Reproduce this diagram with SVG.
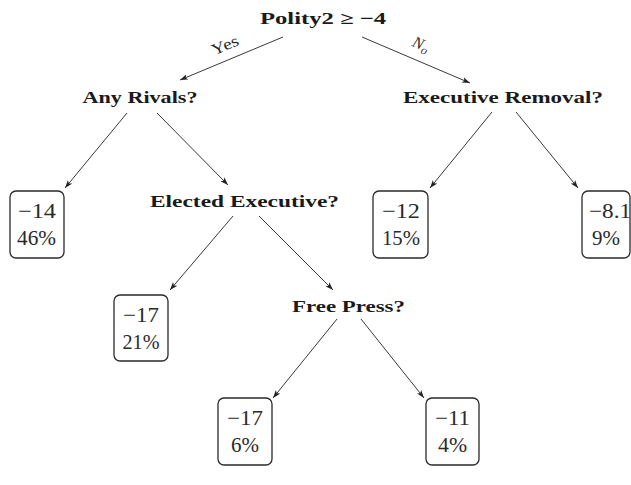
<svg xmlns="http://www.w3.org/2000/svg" width="631" height="485" viewBox="0 0 631 485">
<style>
.q{font-family:"Liberation Serif","Times New Roman",serif;font-weight:bold;font-size:17px;fill:#1a1a1a;text-anchor:middle}
.v{font-family:"Liberation Serif","Times New Roman",serif;font-size:21px;fill:#2a2a2a;text-anchor:middle}
.box{fill:#fff;stroke:#2a2a2a;stroke-width:1.3}
.edge{stroke:#222;stroke-width:0.9;fill:none;marker-end:url(#arr)}
.lbl{font-family:"Liberation Serif","Times New Roman",serif;font-size:16px;fill:#2a2a2a;text-anchor:middle}
</style>
<defs>
<marker id="arr" viewBox="0 0 10 8" refX="10" refY="4" markerWidth="8" markerHeight="6.4" markerUnits="userSpaceOnUse" orient="auto">
<path d="M0,0.5 L10,4 L0,7.5 L2.5,4 Z" fill="#222"/>
</marker>
</defs>
<rect width="631" height="485" fill="#fff"/>
<g id="connectors">
<line class="edge" x1="283" y1="37" x2="180" y2="80"/>
<line class="edge" x1="362" y1="37" x2="470" y2="83"/>
<line class="edge" x1="127" y1="113" x2="65" y2="188"/>
<line class="edge" x1="157" y1="113" x2="228" y2="185"/>
<line class="edge" x1="492" y1="112" x2="430" y2="188"/>
<line class="edge" x1="516" y1="112" x2="578" y2="188"/>
<line class="edge" x1="233" y1="216" x2="170" y2="290"/>
<line class="edge" x1="259" y1="216" x2="333" y2="290"/>
<line class="edge" x1="337" y1="319" x2="273" y2="398"/>
<line class="edge" x1="361" y1="319" x2="424" y2="398"/>
<text class="lbl" transform="translate(227,50) rotate(-22.7)" textLength="28" lengthAdjust="spacingAndGlyphs">Yes</text>
<text class="lbl" font-style="italic" transform="translate(419,49) rotate(23)">N<tspan font-size="12" dy="3">o</tspan></text>
</g>
<g id="n-root"><text class="q" x="323" y="24" textLength="126" lengthAdjust="spacingAndGlyphs">Polity2 ≥ −4</text></g>
<g id="n-rivals"><text class="q" x="140" y="103" textLength="115" lengthAdjust="spacingAndGlyphs">Any Rivals?</text></g>
<g id="n-removal"><text class="q" x="503" y="103" textLength="200" lengthAdjust="spacingAndGlyphs">Executive Removal?</text></g>
<g id="n-elected"><text class="q" x="244.5" y="207" textLength="189" lengthAdjust="spacingAndGlyphs">Elected Executive?</text></g>
<g id="n-press"><text class="q" x="348.5" y="312" textLength="113" lengthAdjust="spacingAndGlyphs">Free Press?</text></g>
<g id="leaf-14">
<rect class="box" x="10" y="191" width="54" height="67" rx="6"/>
<text class="v" x="37" y="218" textLength="38" lengthAdjust="spacingAndGlyphs">−14</text>
<text class="v" x="36.5" y="245" textLength="39" lengthAdjust="spacingAndGlyphs">46%</text>
</g>
<g id="leaf-17a">
<rect class="box" x="114" y="295" width="54" height="66" rx="6"/>
<text class="v" x="141" y="322" textLength="36" lengthAdjust="spacingAndGlyphs">−17</text>
<text class="v" x="141" y="349" textLength="37" lengthAdjust="spacingAndGlyphs">21%</text>
</g>
<g id="leaf-12">
<rect class="box" x="373" y="191" width="55" height="67" rx="6"/>
<text class="v" x="401" y="218" textLength="38" lengthAdjust="spacingAndGlyphs">−12</text>
<text class="v" x="401" y="245" textLength="38" lengthAdjust="spacingAndGlyphs">15%</text>
</g>
<g id="leaf-8">
<rect class="box" x="582" y="191" width="48" height="67" rx="6"/>
<text class="v" x="610" y="218" textLength="42" lengthAdjust="spacingAndGlyphs">−8.1</text>
<text class="v" x="606" y="245" textLength="28" lengthAdjust="spacingAndGlyphs">9%</text>
</g>
<g id="leaf-17b">
<rect class="box" x="218" y="398" width="54" height="67" rx="6"/>
<text class="v" x="245" y="425" textLength="36" lengthAdjust="spacingAndGlyphs">−17</text>
<text class="v" x="245" y="452" textLength="28" lengthAdjust="spacingAndGlyphs">6%</text>
</g>
<g id="leaf-11">
<rect class="box" x="426" y="398" width="53" height="67" rx="6"/>
<text class="v" x="452.5" y="425" textLength="35" lengthAdjust="spacingAndGlyphs">−11</text>
<text class="v" x="452.5" y="452" textLength="29" lengthAdjust="spacingAndGlyphs">4%</text>
</g>
</svg>
